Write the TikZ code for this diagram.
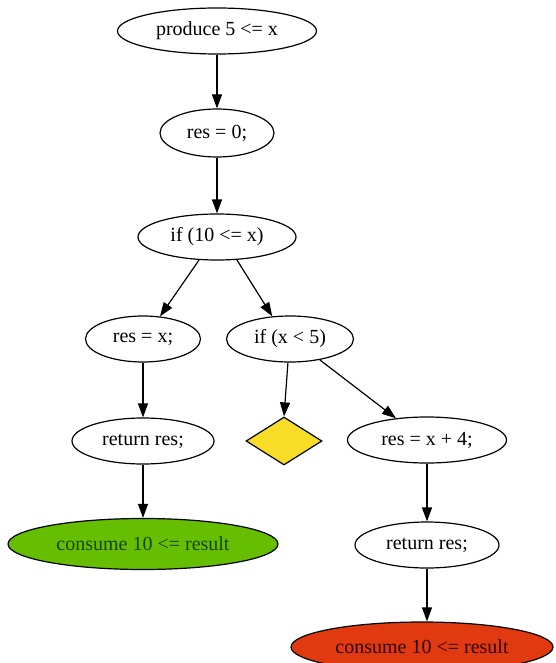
\documentclass[tikz,border=0pt]{standalone}
\usepackage{fontspec}
\setmainfont{Liberation Serif}
\usetikzlibrary{shapes.geometric,arrows.meta}
\definecolor{gfill}{RGB}{102,190,0}
\definecolor{gtext}{RGB}{20,70,0}
\definecolor{rfill}{RGB}{226,58,16}
\definecolor{rtext}{RGB}{45,0,0}
\definecolor{yfill}{RGB}{247,221,40}
\tikzset{
  el/.style={ellipse, draw, line width=1.2pt, inner sep=0pt, font=\fontsize{20}{23}\selectfont, minimum height=46pt},
  dia/.style={diamond, draw, line width=1.2pt, inner sep=0pt, fill=yfill, minimum width=76pt, minimum height=48pt},
  edge/.style={draw, line width=1.2pt, -{Triangle[length=14pt,width=10pt]}}
}
\begin{document}
\begin{tikzpicture}[x=1pt,y=-1pt]
\useasboundingbox (0,0) rectangle (555,663);
\begin{scope}
\clip (0,0) rectangle (555,663);
\node[el, minimum width=199pt] (prod) at (217,31) {produce 5 <= x};
\node[el, minimum width=114pt, minimum height=48pt] (res0) at (217,133) {res = 0;};
\node[el, minimum width=158pt] (if1) at (217,237) {if (10 <= x)};
\node[el, minimum width=115pt] (resx) at (143,339) {res = x;};
\node[el, minimum width=127pt] (ifx) at (290,339) {if (x < 5)};
\node[dia] (d) at (284,441) {};
\node[el, minimum width=159pt] (resx4) at (427,440) {res = x + 4;};
\node[el, minimum width=142pt] (retl) at (143,441) {return res;};
\node[el, minimum width=144pt] (retr) at (427,545) {return res;};
\node[el, minimum width=270pt, minimum height=51pt, fill=gfill, text=gtext] (cg) at (143,544) {consume 10 <= result};
\node[el, minimum width=262pt, minimum height=50pt, fill=rfill, text=rtext] (cr) at (422,647) {consume 10 <= result};
\end{scope}
\draw[edge] (prod) -- (res0);
\draw[edge] (res0) -- (if1);
\draw[edge] (if1.232) -- (resx.53);
\draw[edge] (if1.311) -- (ifx.128);
\draw[edge] (ifx.265) -- (d.north);
\draw[edge] (ifx.325) -- (resx4.145);
\draw[edge] (resx) -- (retl);
\draw[edge] (retl) -- (cg);
\draw[edge] (resx4) -- (retr);
\draw[edge] (retr.south) -- (cr.north -| retr.south);
\end{tikzpicture}
\end{document}
